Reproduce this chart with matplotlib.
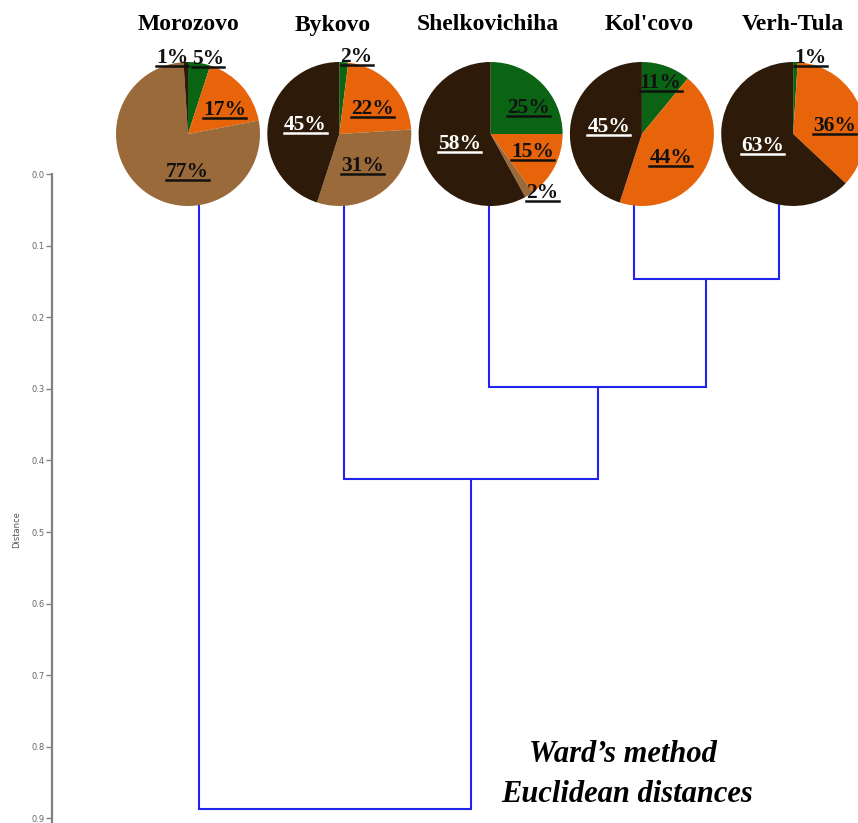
import matplotlib.pyplot as plt
from matplotlib.lines import Line2D

# ---- data ----
sites = ["Morozovo", "Bykovo", "Shelkovichiha", "Kol'covo", "Verh-Tula"]
green = [5, 2, 25, 11, 1]
orange = [17, 22, 15, 44, 36]
light_brown = [77, 31, 2, 0, 0]
dark_brown = [1, 45, 58, 45, 63]

# Ward linkage: (cluster a, cluster b, distance); new clusters numbered from 5
merges = [(3, 4, 0.147), (2, 5, 0.297), (1, 6, 0.426), (0, 7, 0.887)]
yticks = [0.0, 0.1, 0.2, 0.3, 0.4, 0.5, 0.6, 0.7, 0.8, 0.9]

slice_colors = ['#0b6414', '#e8640a', '#9b6a3a', '#2d1a08']
label_colors = ['#111111', '#111111', '#111111', 'white']
line_blue = '#2323ee'

# label placement inside each pie (radius units), order: green, orange, light, dark
label_pos = [
    [(0.28, 1.04), (0.51, 0.33), (-0.01, -0.53), (-0.22, 1.06)],
    [(0.24, 1.07), (0.46, 0.35), (0.32, -0.44), (-0.47, 0.12)],
    [(0.53, 0.36), (0.58, -0.25), (0.72, -0.82), (-0.43, -0.14)],
    [(0.26, 0.71), (0.40, -0.33), None, (-0.46, 0.10)],
    [(0.24, 1.06), (0.57, 0.11), None, (-0.43, -0.17)],
]
title_dx = [0, -7, -3, 7, 0]

W, H = 858, 823
fig = plt.figure(figsize=(W / 100, H / 100), dpi=100)

# ---- dendrogram ----
top_px, axis_x = 174, 52
ax = fig.add_axes([axis_x / W, 0, (W - axis_x) / W, (H - top_px) / H])
leaf0, step = 199, 145
ax.set_xlim((axis_x - leaf0) / step, (W - leaf0) / step)
ax.set_ylim((H - top_px) / 716.0, 0)

pos = {i: float(i) for i in range(len(sites))}
height = {i: 0.0 for i in range(len(sites))}
for k, (a, b, d) in enumerate(merges):
    node = len(sites) + k
    ax.plot([pos[a], pos[a], pos[b], pos[b]], [height[a], d, d, height[b]],
            color=line_blue, lw=1.5, solid_joinstyle='miter')
    pos[node] = (pos[a] + pos[b]) / 2
    height[node] = d

for s in ('top', 'right', 'bottom'):
    ax.spines[s].set_visible(False)
ax.spines['left'].set_color('#808080')
ax.spines['left'].set_linewidth(1.6)
ax.set_xticks([])
ax.set_yticks(yticks)
ax.set_yticklabels([f"{t:.1f}" for t in yticks])
ax.tick_params(axis='y', length=4, width=1, color='#808080', labelsize=6,
               labelcolor='#666666', pad=1)
ax.patch.set_visible(False)

fig.text(17 / W, 1 - 530 / H, 'Distance', rotation=90, ha='center',
         va='center', fontsize=6, color='#555555')

fig.text(623 / W, 1 - 755 / H, 'Ward\u2019s method', ha='center', va='center',
         fontsize=22, family='Liberation Serif', weight='bold', style='italic')
fig.text(627 / W, 1 - 795 / H, 'Euclidean distances', ha='center', va='center',
         fontsize=22, family='Liberation Serif', weight='bold', style='italic')

# ---- pies ----
r, cy = 72, 134
labels = []
for i, name in enumerate(sites):
    cx = 188 + 151.3 * i
    pax = fig.add_axes([(cx - r) / W, 1 - (cy + r) / H, 2 * r / W, 2 * r / H])
    vals = [green[i], orange[i], light_brown[i], dark_brown[i]]
    keep = [j for j, v in enumerate(vals) if v > 0]
    pax.pie([vals[j] for j in keep], colors=[slice_colors[j] for j in keep],
            startangle=90, counterclock=False, radius=1,
            wedgeprops=dict(linewidth=0))
    pax.set_xlim(-1, 1)
    pax.set_ylim(-1, 1)
    pax.axis('off')
    for j in keep:
        dx, dy = label_pos[i][j]
        # labels set outside the pie are always dark
        col = label_colors[j] if dx * dx + dy * dy < 1 else '#111111'
        t = pax.text(dx, dy, f"{vals[j]}%", ha='center', va='center',
                     fontsize=15.5, family='Liberation Serif', weight='bold',
                     color=col, clip_on=False)
        labels.append(t)
    fig.text((cx + title_dx[i]) / W, 1 - 25 / H, name, ha='center',
             va='center', fontsize=17, family='Liberation Serif',
             weight='bold')

# underline the percentage labels
fig.canvas.draw()
inv = fig.transFigure.inverted()
for t in labels:
    bb = t.get_window_extent()
    (x0, y0), (x1, _) = inv.transform([(bb.x0, bb.y0 + 2), (bb.x1, bb.y0)])
    fig.add_artist(Line2D([x0, x1], [y0, y0], color=t.get_color(), lw=1.8,
                          transform=fig.transFigure))

fig.savefig('out.png', dpi=100)
